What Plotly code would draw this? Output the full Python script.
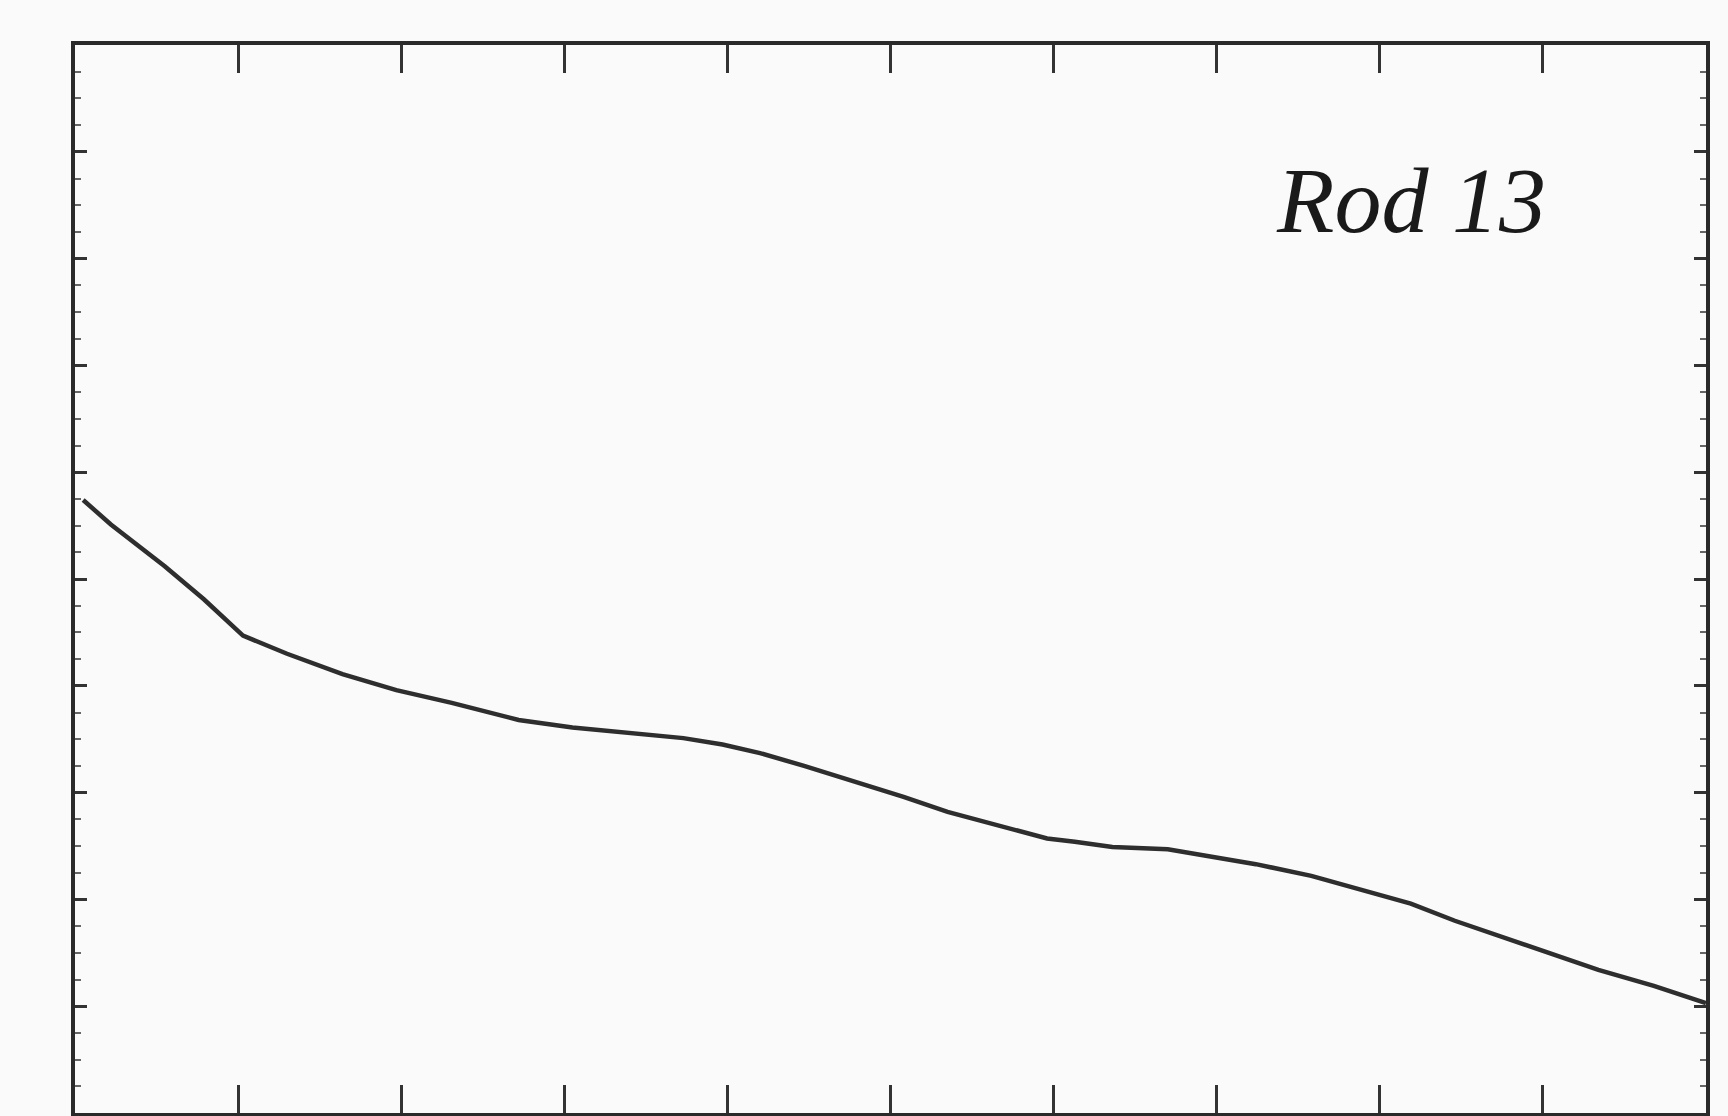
import plotly.graph_objects as go

# Curve (axis units 0..10 on both axes)
x_vals = [0.05, 0.22, 0.55, 0.79, 1.03, 1.30, 1.64, 1.97, 2.31, 2.72, 3.05, 3.39,
          3.73, 3.97, 4.20, 4.47, 4.81, 5.08, 5.35, 5.69, 5.96, 6.13, 6.36, 6.70,
          6.97, 7.24, 7.58, 7.92, 8.19, 8.46, 8.73, 9.00, 9.34, 9.68, 10.0]
y_vals = [5.74, 5.51, 5.12, 4.81, 4.47, 4.30, 4.11, 3.96, 3.84, 3.68, 3.61, 3.56,
          3.51, 3.45, 3.37, 3.25, 3.09, 2.96, 2.82, 2.68, 2.57, 2.54, 2.49, 2.47,
          2.40, 2.33, 2.22, 2.08, 1.96, 1.80, 1.66, 1.51, 1.34, 1.19, 1.03]

label_text = "Rod 13"
x_tick_vals = [1, 2, 3, 4, 5, 6, 7, 8, 9]
y_tick_vals = [1, 2, 3, 4, 5, 6, 7, 8, 9]

fig = go.Figure()
fig.add_trace(go.Scatter(x=x_vals, y=y_vals, mode="lines",
                         line=dict(color="#2e2e2e", width=4.5),
                         showlegend=False, hoverinfo="skip"))

fig.add_annotation(x=8.19, y=8.55, xref="x", yref="y", text=label_text,
                   showarrow=False,
                   font=dict(family="Liberation Serif", size=94, color="#1a1a1a",
                             style="italic", weight="normal"))

axis_common = dict(showline=True, linecolor="#2a2a2a", linewidth=3.5,
                   mirror="ticks", ticks="inside", tickcolor="#333333",
                   showgrid=False, zeroline=False, showticklabels=False)

fig.update_xaxes(range=[0, 10], tickvals=x_tick_vals, ticklen=28, tickwidth=3,
                 **axis_common)
fig.update_yaxes(range=[0, 10], tickvals=y_tick_vals, ticklen=12, tickwidth=3,
                 minor=dict(ticks="inside", dtick=0.25, ticklen=6, tickwidth=2,
                            tickcolor="#666666"),
                 **axis_common)

fig.update_layout(width=1728, height=1116,
                  margin=dict(l=75, r=22, t=45, b=3),
                  paper_bgcolor="#fafafa", plot_bgcolor="#fafafa")

fig.write_html("out.html")
